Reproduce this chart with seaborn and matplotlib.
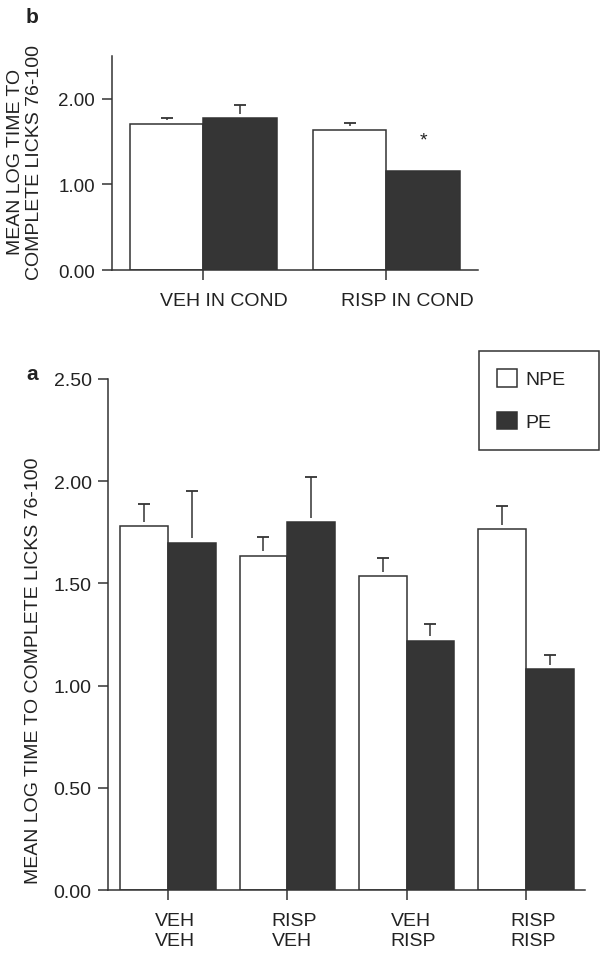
import matplotlib
matplotlib.use("Agg")
import matplotlib.pyplot as plt
import matplotlib.transforms as mtransforms
import pandas as pd
import seaborn as sns

# ---- panel b : conditioning ----
cond_groups = ["VEH IN COND", "RISP IN COND"]
cond_npe = [1.70, 1.63]
cond_pe = [1.77, 1.16]
cond_npe_err = [0.07, 0.09]
cond_pe_err = [0.15, 0.0]
cond_pe_sig = ["", "*"]

# ---- panel a : test ----
test_groups = ["VEH\nVEH", "RISP\nVEH", "VEH\nRISP", "RISP\nRISP"]
test_npe = [1.78, 1.635, 1.535, 1.765]
test_pe = [1.70, 1.80, 1.22, 1.08]
test_npe_err = [0.11, 0.09, 0.09, 0.115]
test_pe_err = [0.25, 0.22, 0.08, 0.07]

levels = ["NPE", "PE"]
palette = {"NPE": "white", "PE": "#353535"}
INK = "#333333"
YLAB = "MEAN LOG TIME TO COMPLETE LICKS 76-100"

sns.set_style("ticks")
plt.rcParams["font.family"] = ["Liberation Sans", "DejaVu Sans"]
plt.rcParams["text.color"] = "#222222"
plt.rcParams["xtick.color"] = INK
plt.rcParams["ytick.color"] = INK
plt.rcParams["xtick.labelcolor"] = "#222222"
plt.rcParams["ytick.labelcolor"] = "#222222"


def make_df(groups, npe, pe):
    return pd.DataFrame({"group": groups * 2,
                         "exposure": ["NPE"] * len(groups) + ["PE"] * len(groups),
                         "value": npe + pe})


def add_errbars(ax, err_lists, sig=None):
    # stems start a few pixels above the bar top, cap at mean+sem
    gap = 4.5 * 2.5 / ax.bbox.height
    for cont, errs in zip(ax.containers, err_lists):
        for bar, e in zip(cont, errs):
            if e <= 0:
                continue
            x = bar.get_x() + bar.get_width() / 2
            top = bar.get_height()
            if e > gap:
                ax.vlines(x, top + gap, top + e, color=INK, lw=1.1, zorder=4)
            ax.plot([x], [top + e], marker="_", ms=8.5, mew=1.3, color=INK, zorder=4)
    if sig:
        for bar, s in zip(ax.containers[1], sig):
            if s:
                ax.annotate(s, xy=(bar.get_x() + bar.get_width() / 2, bar.get_height()),
                            xytext=(0, 19), textcoords="offset points",
                            ha="center", va="baseline", fontsize=14)


def style_axis(ax, ticks, ylabsize, xpad, dx):
    ax.set_ylim(0, 2.5)
    ax.set_xlim(-0.5, len(ax.get_xticks()) - 0.5)
    ax.set_yticks(ticks)
    ax.set_yticklabels([f"{t:.2f}" for t in ticks])
    ax.set_xlabel("")
    ax.set_ylabel("")
    sns.despine(ax=ax)
    for sp in ["left", "bottom"]:
        ax.spines[sp].set_color(INK)
        ax.spines[sp].set_linewidth(1.1)
    ax.tick_params(axis="both", length=7, width=1.1)
    ax.tick_params(axis="y", labelsize=ylabsize, pad=5)
    ax.tick_params(axis="x", labelsize=14, pad=xpad)
    shift = mtransforms.ScaledTranslation(dx / 100, 0, ax.figure.dpi_scale_trans)
    for lab in ax.get_xticklabels():
        lab.set_transform(lab.get_transform() + shift)
        lab.set_multialignment("left")
        lab.set_linespacing(1.25)


fig = plt.figure(figsize=(6, 9.54), dpi=100)

# panel b (top)
ax_b = fig.add_axes([0.1862, 0.7159, 0.6105, 0.2247])
sns.barplot(data=make_df(cond_groups, cond_npe, cond_pe), x="group", y="value",
            hue="exposure", hue_order=levels, palette=palette, edgecolor=INK,
            linewidth=1.1, errorbar=None, legend=False, ax=ax_b)
style_axis(ax_b, [0.0, 1.0, 2.0], 13.5, 9, 21)
add_errbars(ax_b, [cond_npe_err, cond_pe_err], cond_pe_sig)
fig.text(25 / 600, 1 - 162 / 954, "MEAN LOG TIME TO\nCOMPLETE LICKS 76-100",
         rotation=90, ha="center", va="center", fontsize=14, linespacing=1.1)
fig.text(26 / 600, 1 - 23.3 / 954, "b", fontsize=15, fontweight="bold",
         ha="left", va="baseline")

# panel a (bottom)
ax_a = fig.add_axes([0.1805, 0.066, 0.7953, 0.5357])
sns.barplot(data=make_df(test_groups, test_npe, test_pe), x="group", y="value",
            hue="exposure", hue_order=levels, palette=palette, edgecolor=INK,
            linewidth=1.1, errorbar=None, ax=ax_a)
style_axis(ax_a, [0.0, 0.5, 1.0, 1.5, 2.0, 2.5], 14, 8.5, 7)
add_errbars(ax_a, [test_npe_err, test_pe_err])
fig.text(34 / 600, 1 - 671 / 954, YLAB, rotation=90, ha="center", va="center",
         fontsize=14)
fig.text(26 / 600, 1 - 380 / 954, "a", fontsize=15, fontweight="bold",
         ha="left", va="baseline")

sns.move_legend(ax_a, "upper left", bbox_to_anchor=(0.798, 0.5314, 0.2, 0.1),
                bbox_transform=fig.transFigure, mode="expand", title=None,
                frameon=True, fancybox=False, framealpha=1, edgecolor=INK,
                fontsize=14, handlelength=1.0, handleheight=1.0,
                handletextpad=0.45, labelspacing=1.2, borderpad=0.95,
                borderaxespad=0)
ax_a.get_legend().get_frame().set_linewidth(1.1)

fig.savefig("out.png", dpi=100)
